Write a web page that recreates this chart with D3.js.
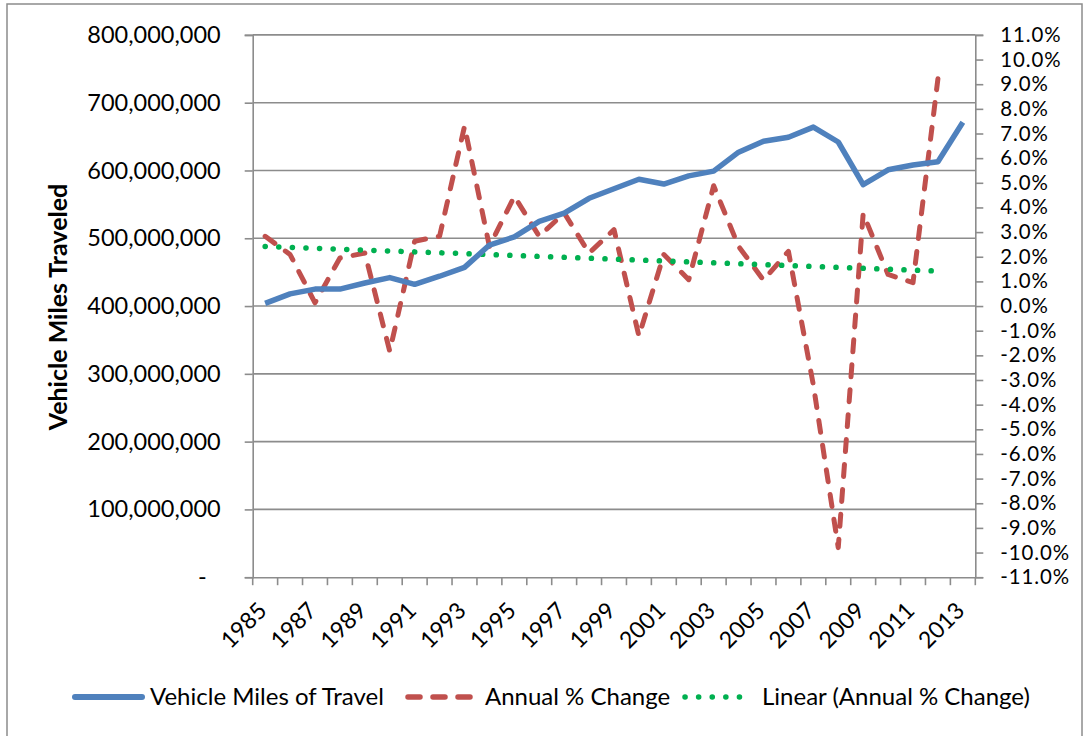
<!DOCTYPE html>
<html>
<head>
<meta charset="utf-8">
<script src="https://cdn.jsdelivr.net/npm/d3@7"></script>
<style>
  html, body { margin: 0; padding: 0; background: #fff; }
  svg { display: block; font-family: Lato, "Open Sans", sans-serif; }
</style>
</head>
<body>
<svg id="chart" width="1088" height="736"></svg>
<script>
// ---- data ----
const years = d3.range(1985, 2014);
const vmtValues = [404e6, 418e6, 425e6, 425e6, 434e6, 442e6, 432e6, 444e6, 457e6, 490e6,
  502e6, 525e6, 537e6, 559e6, 573e6, 587e6, 580e6, 592e6, 599e6, 627e6,
  643e6, 649e6, 664e6, 642e6, 579e6, 601e6, 608e6, 613e6, 671e6];
const changeYears = d3.range(1985, 2013);
const changeValues = [2.83, 2.09, 0.13, 1.95, 2.15, -1.83, 2.63, 2.83, 7.29, 2.42,
  4.45, 2.83, 3.78, 2.15, 3.10, -1.22, 2.09, 1.07, 4.88, 2.42,
  1.05, 2.22, -3.2, -9.8, 3.75, 1.28, 0.95, 9.22];
const trendYears = [1985, 2012];
const trendValues = [2.42, 1.42];
const leftTicks = [0, 100e6, 200e6, 300e6, 400e6, 500e6, 600e6, 700e6, 800e6];
const rightTicks = d3.range(-11, 12, 1);
const xLabelYears = d3.range(1985, 2014, 2);
const seriesNames = ["Vehicle Miles of Travel", "Annual % Change", "Linear (Annual % Change)"];
const leftTitle = "Vehicle Miles Traveled";

// ---- layout ----
const svg = d3.select("#chart");
const L = 252.7, R = 975.3, T = 34.9, B = 577.2;
const gridColor = "#8c8c8c";
const blue = "#4F81BD", red = "#C0504D", green = "#00B050";

svg.append("rect").attr("x", 7).attr("y", 4).attr("width", 1075).attr("height", 745)
  .attr("fill", "none").attr("stroke", "#8c8c8c").attr("stroke-width", 1.5);

const x = d3.scaleBand().domain(years).range([L, R]).paddingInner(0).paddingOuter(0);
const xc = d => x(d) + x.bandwidth() / 2;
const yL = d3.scaleLinear().domain([0, 800e6]).range([B, T]);
const yR = d3.scaleLinear().domain([-11, 11]).range([B, T]);

// gridlines
svg.append("g").selectAll("line").data(leftTicks.filter(d => d > 0)).join("line")
  .attr("x1", L).attr("x2", R).attr("y1", d => yL(d)).attr("y2", d => yL(d))
  .attr("stroke", gridColor).attr("stroke-width", 1.6);

// left axis
const fmtL = d => d === 0 ? "-" : d3.format(",")(d);
const gL = svg.append("g").attr("transform", `translate(${L},0)`)
  .call(d3.axisLeft(yL).tickValues(leftTicks).tickFormat(fmtL).tickSize(8).tickPadding(24));
gL.select(".domain").attr("stroke", gridColor).attr("stroke-width", 1.6);
gL.selectAll(".tick line").attr("stroke", gridColor).attr("stroke-width", 1.6);
gL.selectAll(".tick text").attr("font-size", 23.5).attr("fill", "#000").attr("font-family", "Lato");
gL.selectAll(".tick text").filter(d => d === 0).attr("dx", -14);

// right axis
const gR = svg.append("g").attr("transform", `translate(${R},0)`)
  .call(d3.axisRight(yR).tickValues(rightTicks).tickFormat(d => d.toFixed(1) + "%").tickSize(8).tickPadding(17));
gR.select(".domain").attr("stroke", gridColor).attr("stroke-width", 1.6);
gR.selectAll(".tick line").attr("stroke", gridColor).attr("stroke-width", 1.6);
gR.selectAll(".tick text").attr("font-size", 20.4).attr("letter-spacing", 0.9)
  .attr("fill", "#000").attr("font-family", "Lato");

// bottom axis
const gB = svg.append("g").attr("transform", `translate(0,${B})`)
  .call(d3.axisBottom(x).tickValues([]).tickSize(0));
gB.select(".domain").attr("stroke", gridColor).attr("stroke-width", 1.6);
const tickPos = years.map(d => x(d)).concat([R]);
svg.append("g").selectAll("line").data(tickPos).join("line")
  .attr("x1", d => d).attr("x2", d => d).attr("y1", B).attr("y2", B + 8)
  .attr("stroke", gridColor).attr("stroke-width", 1.6);
svg.append("g").selectAll("text").data(xLabelYears).join("text")
  .attr("transform", d => `translate(${xc(d) + 3},612) rotate(-45)`)
  .attr("text-anchor", "end").attr("font-size", 23).attr("fill", "#000")
  .text(d => d);

// left title
svg.append("text").attr("transform", "translate(67,307) rotate(-90)")
  .attr("text-anchor", "middle").attr("font-size", 25).attr("font-weight", "bold")
  .text(leftTitle);

// series
const lineL = d3.line().x(d => xc(d[0])).y(d => yL(d[1]));
const lineR = d3.line().x(d => xc(d[0])).y(d => yR(d[1]));

svg.append("path").datum(d3.zip(changeYears, changeValues)).attr("d", lineR)
  .attr("fill", "none").attr("stroke", red).attr("stroke-width", 5)
  .attr("stroke-dasharray", "12,13").attr("stroke-linecap", "round").attr("stroke-linejoin", "round");

svg.append("path").datum(d3.zip(trendYears, trendValues)).attr("d", lineR)
  .attr("fill", "none").attr("stroke", green).attr("stroke-width", 5.5)
  .attr("stroke-dasharray", "0.1,13.5").attr("stroke-linecap", "round");

svg.append("path").datum(d3.zip(years, vmtValues)).attr("d", lineL)
  .attr("fill", "none").attr("stroke", blue).attr("stroke-width", 5.5)
  .attr("stroke-linejoin", "round");

// legend
const leg = svg.append("g");
const ly = 697;
const legItems = [
  { x1: 75, x2: 142, tx: 150, color: blue, dash: null, w: 6 },
  { x1: 408, x2: 470, tx: 485, color: red, dash: "12,13", w: 5.5 },
  { x1: 685, x2: 742, tx: 762, color: green, dash: "0.1,13.5", w: 5.5 }
];
legItems.forEach((it, i) => {
  leg.append("line").attr("x1", it.x1).attr("x2", it.x2).attr("y1", ly).attr("y2", ly)
    .attr("stroke", it.color).attr("stroke-width", it.w)
    .attr("stroke-linecap", "round")
    .attr("stroke-dasharray", it.dash);
  leg.append("text").attr("x", it.tx).attr("y", ly).attr("dy", "0.35em")
    .attr("font-size", 24).attr("fill", "#000").text(seriesNames[i]);
});
</script>
</body>
</html>
